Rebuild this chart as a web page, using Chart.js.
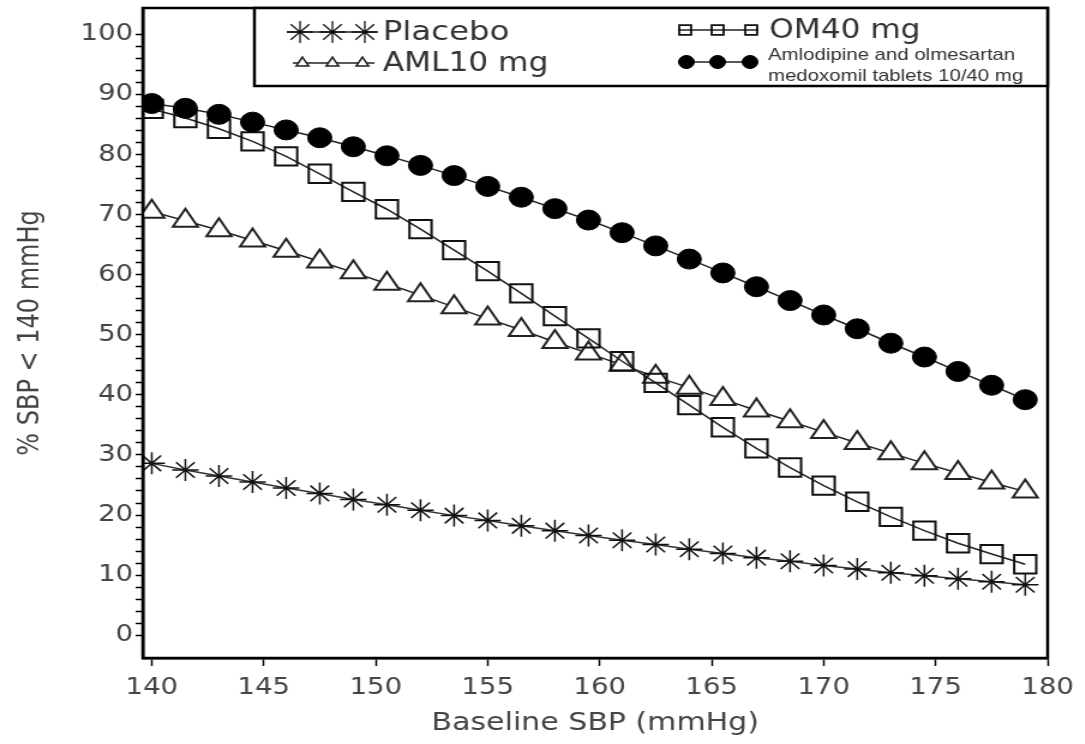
<!DOCTYPE html>
<html>
<head>
<meta charset="utf-8">
<script src="https://cdn.jsdelivr.net/npm/chart.js@4.4.1/dist/chart.umd.min.js"></script>
<style>
html, body { margin: 0; padding: 0; background: #fff; overflow: hidden; }
#wrap { width: 1085px; height: 744px; overflow: hidden; }
/* source picture is stretched sideways, so draw narrow and stretch */
#myChart { transform: scaleX(1.2); transform-origin: 0 0; }
</style>
</head>
<body>
<div id="wrap"><canvas id="myChart" width="904" height="744"></canvas></div>
<script>
// Baseline SBP (mmHg)
const baseline = [140, 141.5, 143, 144.5, 146, 147.5, 149, 150.5, 152, 153.5, 155, 156.5, 158, 159.5,
    161, 162.5, 164, 165.5, 167, 168.5, 170, 171.5, 173, 174.5, 176, 177.5, 179];

// % SBP < 140 mmHg
const placebo = [28.6, 27.5, 26.5, 25.5, 24.5, 23.6, 22.6, 21.7, 20.8, 19.9, 19.1, 18.2, 17.4, 16.6,
    15.8, 15.1, 14.3, 13.6, 12.9, 12.3, 11.6, 11.0, 10.4, 9.9, 9.4, 8.9, 8.4];
const aml10 = [70.5, 69.0, 67.4, 65.7, 64.0, 62.2, 60.4, 58.5, 56.6, 54.6, 52.7, 50.8, 48.8, 46.9,
    45.0, 43.0, 41.2, 39.3, 37.4, 35.6, 33.8, 32.0, 30.3, 28.6, 27.0, 25.4, 23.9];
const om40 = [87.6, 86.1, 84.3, 82.2, 79.7, 76.8, 73.8, 70.9, 67.6, 64.1, 60.6, 56.9, 53.1, 49.4,
    45.6, 42.0, 38.3, 34.6, 31.1, 27.9, 24.9, 22.2, 19.7, 17.4, 15.3, 13.5, 11.8];
const combo = [88.5, 87.7, 86.7, 85.4, 84.1, 82.8, 81.3, 79.8, 78.2, 76.5, 74.7, 72.9, 71.0, 69.1,
    67.0, 64.8, 62.6, 60.3, 58.0, 55.7, 53.3, 51.0, 48.6, 46.3, 43.9, 41.6, 39.2];

const xTicks = [140, 145, 150, 155, 160, 165, 170, 175, 180];
const yTicks = [0, 10, 20, 30, 40, 50, 60, 70, 80, 90, 100];

const labels = ['Placebo', 'AML10 mg', 'OM40 mg', 'Amlodipine and olmesartan\nmedoxomil tablets 10/40 mg'];

function pts(arr) {
    return baseline.map((b, i) => ({ x: b, y: arr[i] }));
}

// frame round the plot area
const framePlugin = {
    id: 'frame',
    afterDraw(chart) {
        const a = chart.chartArea;
        const ctx = chart.ctx;
        ctx.save();
        ctx.strokeStyle = '#000';
        ctx.lineWidth = 2.5;
        ctx.strokeRect(a.left, a.top, a.right - a.left, a.bottom - a.top);
        ctx.restore();
    }
};

// legend box like the SAS one: line with three markers, then text
const legendPlugin = {
    id: 'boxLegend',
    afterDraw(chart) {
        const ctx = chart.ctx;
        const a = chart.chartArea;
        const left = 212, top = a.top, bottom = 86;
        ctx.save();
        ctx.fillStyle = '#fff';
        ctx.fillRect(left, top, a.right - left, bottom - top);
        ctx.strokeStyle = '#000';
        ctx.lineWidth = 2.5;
        ctx.strokeRect(left, top, a.right - left, bottom - top);

        const items = [
            { ds: 0, x0: 239, x1: 314, y: 32, marks: [250, 277, 304], r: 11, bw: 1.3 },
            { ds: 1, x0: 244, x1: 312, y: 63, marks: [252, 277, 302], r: 6, bw: 1.5 },
            { ds: 2, x0: 565, x1: 632, y: 30, marks: [571, 598, 626], r: 7, bw: 1.8 },
            { ds: 3, x0: 566, x1: 631, y: 62, marks: [572, 598, 625], r: 6.5, bw: 1 }
        ];
        items.forEach(it => {
            const d = chart.data.datasets[it.ds];
            ctx.strokeStyle = '#222';
            ctx.lineWidth = 1.5;
            ctx.beginPath();
            ctx.moveTo(it.x0, it.y);
            ctx.lineTo(it.x1, it.y);
            ctx.stroke();
            it.marks.forEach(mx => {
                ctx.fillStyle = d.pointBackgroundColor;
                ctx.strokeStyle = d.pointBorderColor;
                ctx.lineWidth = it.bw;
                Chart.helpers.drawPoint(ctx, { pointStyle: d.pointStyle, radius: it.r, rotation: 0, borderWidth: it.bw }, mx, it.y);
            });
        });

        ctx.fillStyle = '#333';
        ctx.textBaseline = 'middle';
        ctx.textAlign = 'left';
        ctx.font = '27px "DejaVu Sans"';
        ctx.fillText(labels[0], 319, 33);
        ctx.font = '26px "DejaVu Sans"';
        ctx.fillText(labels[1], 319, 64);
        ctx.fillText(labels[2], 641, 31);
        ctx.font = '17px "Liberation Sans"';
        const two = labels[3].split('\n');
        ctx.fillText(two[0], 640, 55);
        ctx.fillText(two[1], 640, 76);
        ctx.restore();
    }
};

new Chart('myChart', {
    type: 'line',
    data: {
        datasets: [{
            label: labels[0],
            data: pts(placebo),
            pointStyle: 'star',
            pointRadius: 11,
            pointBorderWidth: 1.5,
            pointBackgroundColor: '#fff',
            pointBorderColor: '#111',
            borderColor: '#333',
            borderWidth: 1.5,
            order: 3
        }, {
            label: labels[1],
            data: pts(aml10),
            pointStyle: 'triangle',
            pointRadius: 12,
            pointBorderWidth: 2,
            pointBackgroundColor: '#fff',
            pointBorderColor: '#222',
            borderColor: '#222',
            borderWidth: 1.5,
            order: 2
        }, {
            label: labels[2],
            data: pts(om40),
            pointStyle: 'rect',
            pointRadius: 13,
            pointBorderWidth: 2,
            pointBackgroundColor: 'rgba(255,255,255,0)',
            pointBorderColor: '#111',
            borderColor: '#222',
            borderWidth: 1.5,
            order: 1
        }, {
            label: labels[3],
            data: pts(combo),
            pointStyle: 'circle',
            pointRadius: 10,
            pointBorderWidth: 1,
            pointBackgroundColor: '#000',
            pointBorderColor: '#000',
            borderColor: '#222',
            borderWidth: 1.5,
            order: 0
        }]
    },
    options: {
        responsive: false,
        animation: false,
        devicePixelRatio: 1,
        layout: { autoPadding: false, padding: { top: 8, right: 31, left: 0, bottom: 0 } },
        plugins: { legend: { display: false }, tooltip: { enabled: false } },
        scales: {
            x: {
                type: 'linear',
                min: 139.6,
                max: 180,
                afterBuildTicks: s => { s.ticks = xTicks.map(v => ({ value: v })); },
                afterFit: s => { s.height = 86; },
                grid: { drawOnChartArea: false, tickLength: 8, tickColor: '#000', tickWidth: 1.5 },
                border: { color: '#000', width: 2.5 },
                ticks: { color: '#444', font: { family: 'DejaVu Sans', size: 23 }, padding: 8, autoSkip: false, maxRotation: 0 },
                title: { display: true, text: 'Baseline SBP (mmHg)', color: '#444', font: { family: 'DejaVu Sans', size: 25 }, padding: { top: 0, bottom: 6 } }
            },
            y: {
                min: -3.8,
                max: 104.4,
                afterBuildTicks: s => {
                    const t = [];
                    for (let v = 0; v <= 100; v += 2) t.push({ value: v });
                    s.ticks = t;
                },
                afterFit: s => { s.width = 119; s.paddingTop = 0; s.paddingBottom = 0; },
                grid: { drawOnChartArea: false, tickLength: 6, tickColor: '#000', tickWidth: 1.5 },
                border: { color: '#000', width: 2.5 },
                ticks: {
                    color: '#444',
                    font: { family: 'DejaVu Sans', size: 23 },
                    padding: 2,
                    autoSkip: false,
                    callback: v => yTicks.includes(v) ? v : ''
                },
                title: { display: true, text: '% SBP < 140 mmHg', color: '#444', font: { family: 'DejaVu Sans', size: 24 }, padding: { top: 11, bottom: 0 } }
            }
        }
    },
    plugins: [framePlugin, legendPlugin]
});
</script>
</body>
</html>
